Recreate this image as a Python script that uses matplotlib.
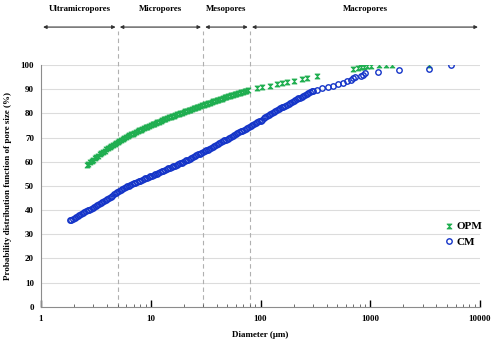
import matplotlib
matplotlib.use("Agg")
import matplotlib.pyplot as plt
import matplotlib.transforms as mtransforms
from matplotlib.path import Path
from matplotlib.ticker import LogLocator, NullFormatter, FixedLocator

plt.rcParams['font.family'] = ['Liberation Serif', 'DejaVu Serif']

# ---- data ----
cm_d = [1.84, 1.89, 1.95, 2.02, 2.09, 2.16, 2.24, 2.32, 2.40, 2.48, 2.57, 2.66, 2.75, 2.85,
        2.95, 3.05, 3.16, 3.27, 3.39, 3.51, 3.63, 3.76, 3.89, 4.03, 4.17, 4.32, 4.47, 4.63,
        4.79, 4.96, 5.13, 5.31, 5.50, 5.69, 5.89, 6.10, 6.31, 6.53, 6.76, 7.00, 7.24, 7.50,
        7.76, 8.04, 8.32, 8.61, 8.91, 9.22, 9.55, 9.87, 10.2, 10.6, 11.0, 11.35, 11.7, 12.15,
        12.6, 13.05, 13.5, 14.0, 14.5, 15.0, 15.5, 16.05, 16.6, 17.2, 17.8, 18.45, 19.1, 19.75,
        20.4, 21.1, 21.9, 22.65, 23.4, 24.2, 25.1, 26.0, 26.9, 27.85, 28.8, 29.8, 30.9, 32.0,
        33.1, 34.3, 35.5, 36.7, 38.0, 39.3, 40.7, 42.2, 43.7, 45.2, 46.8, 48.4, 50.1, 51.9,
        53.7, 55.6, 57.5, 59.6, 61.7, 63.9, 66.1, 68.4, 70.8, 73.3, 75.9, 78.6, 81.3, 84.1,
        87.1, 90.1, 93.3, 96.6, 100, 103.5, 107, 111, 115, 119, 123, 127.5, 132, 136.5,
        141, 146, 151, 156.5, 162, 168, 174, 180, 186, 193, 200, 207, 214, 221.5,
        229, 237, 245, 254, 263, 272.5, 282, 292, 302, 330, 365, 410, 455, 505,
        560, 615, 671, 700, 726, 823, 851, 895, 1167, 1811, 3436, 5420]
cm_v = [35.7, 36.0, 36.3, 36.7, 37.1, 37.45, 37.8, 38.2, 38.6, 39.0, 39.4, 39.8, 40.2, 40.6,
        41.0, 41.4, 41.8, 42.2, 42.6, 43.0, 43.4, 43.8, 44.2, 44.65, 45.1, 45.55, 46.0, 46.45,
        46.9, 47.35, 47.8, 48.2, 48.6, 49.0, 49.4, 49.75, 50.1, 50.4, 50.7, 51.0, 51.3, 51.6,
        51.9, 52.2, 52.5, 52.8, 53.1, 53.4, 53.7, 53.95, 54.2, 54.5, 54.8, 55.1, 55.4, 55.7,
        56.0, 56.3, 56.6, 56.9, 57.2, 57.5, 57.8, 58.1, 58.4, 58.7, 59.0, 59.3, 59.6, 59.9,
        60.2, 60.55, 60.9, 61.25, 61.6, 61.95, 62.3, 62.65, 63.0, 63.3, 63.6, 63.95, 64.3, 64.65,
        65.0, 65.4, 65.8, 66.15, 66.5, 66.85, 67.2, 67.6, 68.0, 68.4, 68.8, 69.15, 69.5, 69.9,
        70.3, 70.65, 71.0, 71.4, 71.8, 72.15, 72.5, 72.9, 73.3, 73.65, 74.0, 74.35, 74.7, 75.1,
        75.5, 75.9, 76.3, 76.65, 77.0, 77.45, 77.9, 78.35, 78.8, 79.25, 79.7, 80.1, 80.5, 80.9,
        81.3, 81.7, 82.1, 82.45, 82.8, 83.15, 83.5, 83.9, 84.3, 84.65, 85.0, 85.4, 85.8, 86.15,
        86.5, 86.9, 87.3, 87.65, 88.0, 88.35, 88.7, 89.05, 89.4, 89.8, 90.3, 90.8, 91.4, 92.0,
        92.6, 93.2, 93.8, 94.5, 95.2, 95.3, 95.9, 96.6, 97.0, 97.9, 98.3, 100.0]

opm_d = [2.60, 2.69, 2.79, 2.89, 2.99, 3.09, 3.20, 3.31, 3.43, 3.55, 3.67, 3.80, 3.94, 4.08,
         4.22, 4.37, 4.52, 4.68, 4.84, 5.01, 5.19, 5.37, 5.56, 5.76, 5.96, 6.17, 6.38, 6.61,
         6.84, 7.08, 7.33, 7.59, 7.85, 8.13, 8.41, 8.71, 9.02, 9.33, 9.66, 10.0, 10.4, 10.75,
         11.1, 11.5, 11.9, 12.3, 12.7, 13.15, 13.6, 14.1, 14.6, 15.15, 15.7, 16.25, 16.8, 17.4,
         18.0, 18.65, 19.3, 20.0, 20.7, 21.4, 22.1, 22.9, 23.7, 24.55, 25.4, 26.3, 27.2, 28.2,
         29.2, 30.25, 31.3, 32.4, 33.5, 34.7, 35.9, 37.2, 38.5, 39.8, 41.2, 42.7, 44.2, 45.7,
         47.3, 49.0, 50.7, 52.5, 54.3, 56.2, 58.2, 60.3, 62.4, 64.6, 66.8, 69.2, 71.6, 74.1,
         76.7, 92, 104, 121, 140, 158, 176, 204, 241, 268, 330, 700, 770, 830, 880, 940,
         1020, 1200, 1400, 1580, 3440]
opm_v = [58.6, 59.2, 59.8, 60.35, 60.9, 61.45, 62.0, 62.55, 63.1, 63.6, 64.1, 64.6, 65.1, 65.55,
         66.0, 66.45, 66.9, 67.35, 67.8, 68.2, 68.6, 69.0, 69.4, 69.8, 70.2, 70.55, 70.9, 71.25,
         71.6, 71.95, 72.3, 72.65, 73.0, 73.3, 73.6, 73.9, 74.2, 74.5, 74.8, 75.1, 75.4, 75.7,
         76.0, 76.3, 76.6, 76.9, 77.2, 77.5, 77.8, 78.05, 78.3, 78.55, 78.8, 79.05, 79.3, 79.55,
         79.8, 80.05, 80.3, 80.55, 80.8, 81.05, 81.3, 81.55, 81.8, 82.05, 82.3, 82.55, 82.8, 83.05,
         83.3, 83.55, 83.8, 84.0, 84.2, 84.45, 84.7, 84.95, 85.2, 85.45, 85.7, 85.9, 86.1, 86.35,
         86.6, 86.8, 87.0, 87.25, 87.5, 87.7, 87.9, 88.1, 88.3, 88.5, 88.7, 88.9, 89.1, 89.3,
         89.5, 90.4, 90.8, 91.3, 92.0, 92.4, 92.8, 93.5, 94.1, 94.6, 95.6, 98.3, 98.6, 99.0,
         99.3, 99.6, 99.6, 99.9, 99.9, 99.9, 100.0]

boundaries = [1, 5, 30, 80, 10000]
region_labels = ["Ultramicropores", "Micropores", "Mesopores", "Macropores"]
y_ticks = [0, 10, 20, 30, 40, 50, 60, 70, 80, 90, 100]
x_ticks = [1, 10, 100, 1000, 10000]

green = '#1fae50'
blue = '#1434c8'

hourglass = Path([(-1, 1), (1, 1), (-1, -1), (1, -1), (-1, 1)],
                 [Path.MOVETO, Path.LINETO, Path.LINETO, Path.LINETO, Path.CLOSEPOLY])

fig = plt.figure(figsize=(5.0, 3.44), dpi=100)
ax = fig.add_axes([0.082, 0.1085, 0.878, 0.7025])

ax.set_xscale('log')
ax.set_xlim(1, 10000)
ax.set_ylim(0, 100)

for y in y_ticks[1:]:
    ax.axhline(y, color='#dcdcdc', lw=0.8, zorder=0)

ax.plot(opm_d, opm_v, linestyle='none', marker=hourglass, ms=3.6, mew=0.6,
        color=green, mfc=green, mec=green, label='OPM', zorder=3)
ax.plot(cm_d, cm_v, linestyle='none', marker='o', ms=3.9, mew=1.0,
        mfc='none', mec=blue, label='CM', zorder=3)

trans = mtransforms.blended_transform_factory(ax.transData, ax.transAxes)
for b in boundaries[1:-1]:
    ax.plot([b, b], [0, 1.14], transform=trans, color='#b0b0b0', lw=0.8,
            ls=(0, (4, 3)), clip_on=False, zorder=1)

for i, lab in enumerate(region_labels):
    lo, hi = boundaries[i], boundaries[i + 1]
    ax.annotate('', xy=(hi, 1.157), xytext=(lo, 1.157), xycoords=trans, textcoords=trans,
                arrowprops=dict(arrowstyle='<|-|>', color='#333333', lw=0.8,
                                mutation_scale=5, shrinkA=1.5, shrinkB=1.5),
                annotation_clip=False)
    xc = (lo * hi) ** 0.5
    ax.text(xc, 1.232, lab, transform=trans, ha='center', va='center',
            fontsize=6.3, fontweight='bold')

for s in ['top', 'right']:
    ax.spines[s].set_visible(False)
ax.spines['left'].set_color('#8c8c8c')
ax.spines['bottom'].set_color('#8c8c8c')

ax.set_yticks(y_ticks)
ax.set_yticklabels([str(v) for v in y_ticks], fontsize=6.5, fontweight='bold')
ax.tick_params(axis='y', length=0, pad=5)

ax.xaxis.set_major_locator(FixedLocator(x_ticks))
ax.set_xticklabels([str(v) for v in x_ticks], fontsize=6.5, fontweight='bold')
ax.xaxis.set_minor_locator(LogLocator(base=10, subs=range(2, 10)))
ax.xaxis.set_minor_formatter(NullFormatter())
ax.tick_params(axis='x', which='major', direction='in', length=5, width=1.0,
               color='black', pad=6)
ax.tick_params(axis='x', which='minor', direction='in', length=2, width=0.6,
               color='#555555')

ax.set_xlabel('Diameter (μm)', fontsize=6.5, fontweight='bold', labelpad=6)
ax.set_ylabel('Probability distribution function of pore size (%)', fontsize=6.5,
              fontweight='bold', labelpad=6)

ax.legend(loc='center left', bbox_to_anchor=(0.905, 0.30), frameon=False,
          prop={'size': 8, 'weight': 'bold'}, handlelength=0.6, handletextpad=0.3,
          borderpad=0.2, labelspacing=0.5)

fig.savefig('out.png', dpi=100)
